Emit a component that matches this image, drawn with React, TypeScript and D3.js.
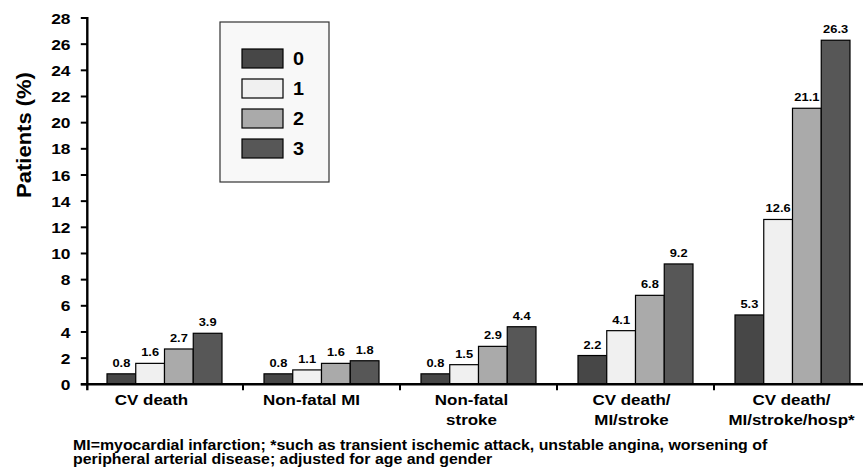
import React from "react";
import * as d3 from "d3";

const categories = [
  ["CV death"],
  ["Non-fatal MI"],
  ["Non-fatal", "stroke"],
  ["CV death/", "MI/stroke"],
  ["CV death/", "MI/stroke/hosp*"],
];
const seriesNames = ["0", "1", "2", "3"];
const series0 = [0.8, 0.8, 0.8, 2.2, 5.3];
const series1 = [1.6, 1.1, 1.5, 4.1, 12.6];
const series2 = [2.7, 1.6, 2.9, 6.8, 21.1];
const series3 = [3.9, 1.8, 4.4, 9.2, 26.3];
const seriesValues = [series0, series1, series2, series3];
const yTicks = [0, 2, 4, 6, 8, 10, 12, 14, 16, 18, 20, 22, 24, 26, 28];
const colors = ["#474747", "#f0f0f0", "#aaaaaa", "#575757"];
const footer = [
  "MI=myocardial infarction; *such as transient ischemic attack, unstable angina, worsening of",
  "peripheral arterial disease; adjusted for age and gender",
];

type TProps = {
  x: number;
  y: number;
  size: number;
  sx?: number;
  anchor?: "start" | "middle" | "end";
  rotate?: number;
  dy?: string;
  children: React.ReactNode;
};

function T({ x, y, size, sx = 1.13, anchor = "start", rotate = 0, dy, children }: TProps) {
  return (
    <text
      transform={`translate(${x},${y}) rotate(${rotate}) scale(${sx},1)`}
      fontSize={size}
      textAnchor={anchor}
      dy={dy}
      fill="#000"
    >
      {children}
    </text>
  );
}

export default function App() {
  const W = 868, H = 475;
  const x0 = 86, x1 = 871, yTop = 18, yBot = 384.3;
  const axisX = 87.3;
  const font = "Arial, 'Liberation Sans', sans-serif";
  const x = d3.scaleBand<number>().domain(d3.range(categories.length)).range([x0, x1]);
  const xLabel = d3.scaleBand<number>().domain(d3.range(categories.length)).range([71.5, 871.5]);
  const y = d3.scaleLinear().domain([0, 28]).range([yBot, yTop]);
  const groupW = 115;
  const xs = d3.scaleBand<number>().domain(d3.range(4)).range([0, groupW]);
  const bw = xs.bandwidth();

  return (
    <svg width={W} height={H} style={{ position: "absolute", left: 0, top: 0 }} fontFamily={font} fontWeight="bold">
      <rect x={0} y={0} width={W} height={H} fill="#fff" />
      {/* bars */}
      {categories.map((_, ci) => {
        const gx = x(ci)! + 21;
        return (
          <g key={ci}>
            {seriesValues.map((vals, si) => {
              const v = vals[ci];
              const bx = gx + xs(si)!;
              return (
                <g key={si}>
                  <rect x={bx} y={y(v)} width={bw} height={yBot - y(v)} fill={colors[si]} stroke="#000" strokeWidth={1.2} />
                  <T x={bx + bw / 2} y={y(v) - 7} size={11.4} anchor="middle">
                    {v.toFixed(1)}
                  </T>
                </g>
              );
            })}
          </g>
        );
      })}
      {/* y axis */}
      <line x1={axisX} x2={axisX} y1={yTop - 1} y2={yBot + 6} stroke="#000" strokeWidth={2.4} />
      {yTicks.map((t) => (
        <g key={t}>
          <line x1={axisX - 6.5} x2={axisX} y1={y(t)} y2={y(t)} stroke="#000" strokeWidth={2} />
          <T x={70.5} y={y(t)} size={15.4} anchor="end" dy="0.36em">
            {t}
          </T>
        </g>
      ))}
      {/* x axis */}
      <line x1={axisX - 6.5} x2={863} y1={yBot} y2={yBot} stroke="#000" strokeWidth={2.4} />
      {d3.range(1, categories.length).map((i) => (
        <line key={i} x1={x(i)!} x2={x(i)!} y1={yBot} y2={yBot + 6} stroke="#000" strokeWidth={2} />
      ))}
      {categories.map((lines, ci) =>
        lines.map((l, li) => (
          <T key={ci + "-" + li} x={xLabel(ci)! + xLabel.bandwidth() / 2} y={404.5 + li * 20.5} size={15} anchor="middle">
            {l}
          </T>
        ))
      )}
      {/* y title */}
      <T x={31} y={135} size={20} sx={1.1} rotate={-90} anchor="middle">
        Patients (%)
      </T>
      {/* legend */}
      <rect x={220} y={22} width={109} height={160} fill="#f8f8f8" stroke="#333" strokeWidth={1.2} />
      {seriesNames.map((s, i) => (
        <g key={s}>
          <rect x={242} y={49 + i * 30} width={41} height={19} fill={colors[i]} stroke="#000" strokeWidth={1.2} />
          <T x={293} y={58.5 + i * 30} size={18} sx={1.1} dy="0.36em">
            {s}
          </T>
        </g>
      ))}
      {/* footer */}
      {footer.map((f, i) => (
        <T key={i} x={73} y={450 + i * 14} size={14} sx={1.135}>
          {f}
        </T>
      ))}
    </svg>
  );
}
